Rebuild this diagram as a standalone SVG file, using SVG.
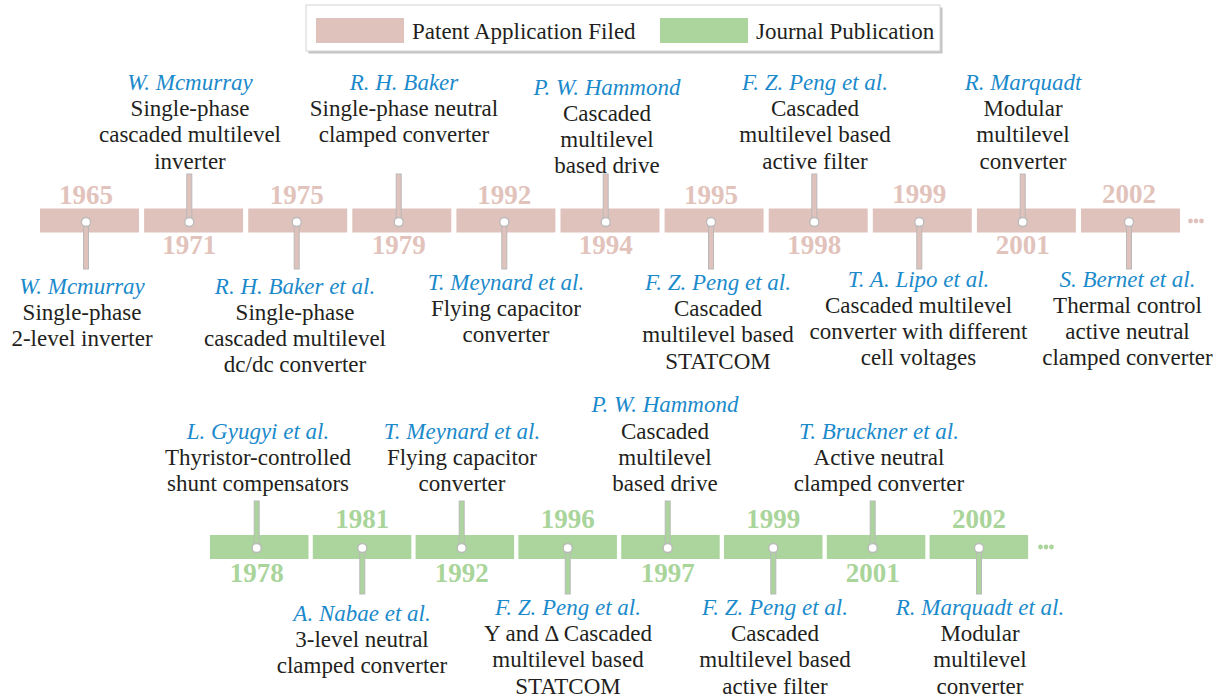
<svg xmlns="http://www.w3.org/2000/svg" width="1227" height="697" viewBox="0 0 1227 697" font-family="'Liberation Serif', 'Times New Roman', Tinos, 'Nimbus Roman', 'Nimbus Roman No9 L', FreeSerif, 'Noto Serif', 'DejaVu Serif', Times, serif">
<style>
.bp{fill:#e0c2bc}
.bg{fill:#abd59c}
.sp{fill:#e0c2bc;stroke:#b9b9b9;stroke-width:1}
.sg{fill:#abd59c;stroke:#b9b9b9;stroke-width:1}
.dot{fill:#fff;stroke:#b9b9b9;stroke-width:1.3}
text{font-family:'Liberation Serif','Times New Roman',Tinos,'Nimbus Roman','Nimbus Roman No9 L',FreeSerif,'Noto Serif','DejaVu Serif',Times,serif}
.yr{font-weight:bold;font-size:27px;text-anchor:middle}
.yp{fill:#e2c3bc}
.yg{fill:#a9d49a}
.lb{font-size:23px;text-anchor:middle;fill:#231f20}
.au{font-style:italic;fill:#1b8acb}
.lg{font-size:23px;fill:#231f20}
</style>
<g id="legend">
<rect x="308.5" y="7.5" width="634" height="46" fill="#c4c4c4"/>
<rect x="306" y="5" width="634" height="46" fill="#fff" stroke="#d4d4d4" stroke-width="1"/>
<rect x="316" y="18" width="88" height="25" class="bp"/>
<text x="412" y="39" class="lg">Patent Application Filed</text>
<rect x="660" y="18" width="88" height="25" class="bg"/>
<text x="756" y="39" class="lg">Journal Publication</text>
</g>
<g id="timeline-top">
<rect class="bp" x="40" y="208.5" width="99" height="24"/>
<rect class="bp" x="144.1" y="208.5" width="99" height="24"/>
<rect class="bp" x="248.2" y="208.5" width="99" height="24"/>
<rect class="bp" x="352.3" y="208.5" width="99" height="24"/>
<rect class="bp" x="456.4" y="208.5" width="99" height="24"/>
<rect class="bp" x="560.5" y="208.5" width="99" height="24"/>
<rect class="bp" x="664.6" y="208.5" width="99" height="24"/>
<rect class="bp" x="768.7" y="208.5" width="99" height="24"/>
<rect class="bp" x="872.8" y="208.5" width="99" height="24"/>
<rect class="bp" x="976.9" y="208.5" width="99" height="24"/>
<rect class="bp" x="1081" y="208.5" width="99" height="24"/>
<circle class="bp" cx="1190.5" cy="221" r="2.4"/>
<circle class="bp" cx="1196" cy="221" r="2.4"/>
<circle class="bp" cx="1201.5" cy="221" r="2.4"/>
</g>
<g id="timeline-bottom">
<rect class="bg" x="210" y="535" width="98.5" height="24"/>
<rect class="bg" x="312.8" y="535" width="98.5" height="24"/>
<rect class="bg" x="415.6" y="535" width="98.5" height="24"/>
<rect class="bg" x="518.4" y="535" width="98.5" height="24"/>
<rect class="bg" x="621.2" y="535" width="98.5" height="24"/>
<rect class="bg" x="724" y="535" width="98.5" height="24"/>
<rect class="bg" x="826.8" y="535" width="98.5" height="24"/>
<rect class="bg" x="929.6" y="535" width="98.5" height="24"/>
<circle class="bg" cx="1040.5" cy="547" r="2.4"/>
<circle class="bg" cx="1046" cy="547" r="2.4"/>
<circle class="bg" cx="1051.5" cy="547" r="2.4"/>
</g>
<g id="connectors">
<rect class="sp" x="83.5" y="222" width="5" height="47"/>
<rect class="sp" x="186.8" y="174" width="5" height="48"/>
<rect class="sp" x="294.2" y="222" width="5" height="47"/>
<rect class="sp" x="396.2" y="174" width="5" height="48"/>
<rect class="sp" x="501.8" y="222" width="5" height="47"/>
<rect class="sp" x="603.2" y="174" width="5" height="48"/>
<rect class="sp" x="708.5" y="222" width="5" height="47"/>
<rect class="sp" x="811.8" y="174" width="5" height="48"/>
<rect class="sp" x="916.8" y="222" width="5" height="47"/>
<rect class="sp" x="1020.2" y="174" width="5" height="48"/>
<rect class="sp" x="1126.5" y="222" width="5" height="47"/>
<rect class="sg" x="254.2" y="501" width="5" height="47"/>
<rect class="sg" x="359.8" y="548" width="5" height="46"/>
<rect class="sg" x="459.2" y="501" width="5" height="47"/>
<rect class="sg" x="565.2" y="548" width="5" height="46"/>
<rect class="sg" x="665.2" y="501" width="5" height="47"/>
<rect class="sg" x="770.8" y="548" width="5" height="46"/>
<rect class="sg" x="870.2" y="501" width="5" height="47"/>
<rect class="sg" x="976.5" y="548" width="5" height="46"/>
</g>
<g id="n1965">
<circle class="dot" cx="86" cy="222" r="4.5"/>
<text class="yr yp" x="86" y="204">1965</text>
<text class="lb"><tspan class="au" x="82" y="293.5">W. Mcmurray</tspan><tspan x="82" y="319.7">Single-phase</tspan><tspan x="82" y="345.9">2-level inverter</tspan></text>
</g>
<g id="n1971">
<circle class="dot" cx="189.3" cy="222" r="4.5"/>
<text class="yr yp" x="189.3" y="254">1971</text>
<text class="lb"><tspan class="au" x="190" y="90">W. Mcmurray</tspan><tspan x="190" y="116.2">Single-phase</tspan><tspan x="190" y="142.4">cascaded multilevel</tspan><tspan x="190" y="168.6">inverter</tspan></text>
</g>
<g id="n1975">
<circle class="dot" cx="296.7" cy="222" r="4.5"/>
<text class="yr yp" x="296.7" y="203.5">1975</text>
<text class="lb"><tspan class="au" x="295" y="293.5">R. H. Baker et al.</tspan><tspan x="295" y="319.7">Single-phase</tspan><tspan x="295" y="345.9">cascaded multilevel</tspan><tspan x="295" y="372.1">dc/dc converter</tspan></text>
</g>
<g id="n1979">
<circle class="dot" cx="398.7" cy="222" r="4.5"/>
<text class="yr yp" x="398.7" y="254">1979</text>
<text class="lb"><tspan class="au" x="404" y="90">R. H. Baker</tspan><tspan x="404" y="116.2">Single-phase neutral</tspan><tspan x="404" y="142.4">clamped converter</tspan></text>
</g>
<g id="n1992a">
<circle class="dot" cx="504.3" cy="222" r="4.5"/>
<text class="yr yp" x="504.3" y="203.5">1992</text>
<text class="lb"><tspan class="au" x="506" y="290">T. Meynard et al.</tspan><tspan x="506" y="316.2">Flying capacitor</tspan><tspan x="506" y="342.4">converter</tspan></text>
</g>
<g id="n1994">
<circle class="dot" cx="605.7" cy="222" r="4.5"/>
<text class="yr yp" x="605.7" y="254">1994</text>
<text class="lb"><tspan class="au" x="607" y="94.7">P. W. Hammond</tspan><tspan x="607" y="120.9">Cascaded</tspan><tspan x="607" y="147.1">multilevel</tspan><tspan x="607" y="173.3">based drive</tspan></text>
</g>
<g id="n1995">
<circle class="dot" cx="711" cy="222" r="4.5"/>
<text class="yr yp" x="711" y="203.5">1995</text>
<text class="lb"><tspan class="au" x="718" y="290">F. Z. Peng et al.</tspan><tspan x="718" y="316.2">Cascaded</tspan><tspan x="718" y="342.4">multilevel based</tspan><tspan x="718" y="368.6">STATCOM</tspan></text>
</g>
<g id="n1998">
<circle class="dot" cx="814.3" cy="222" r="4.5"/>
<text class="yr yp" x="814.3" y="254">1998</text>
<text class="lb"><tspan class="au" x="815" y="90">F. Z. Peng et al.</tspan><tspan x="815" y="116.2">Cascaded</tspan><tspan x="815" y="142.4">multilevel based</tspan><tspan x="815" y="168.6">active filter</tspan></text>
</g>
<g id="n1999a">
<circle class="dot" cx="919.3" cy="222" r="4.5"/>
<text class="yr yp" x="919.3" y="203">1999</text>
<text class="lb"><tspan class="au" x="918.5" y="286.5">T. A. Lipo et al.</tspan><tspan x="918.5" y="312.7">Cascaded multilevel</tspan><tspan x="918.5" y="338.9">converter with different</tspan><tspan x="918.5" y="365.1">cell voltages</tspan></text>
</g>
<g id="n2001a">
<circle class="dot" cx="1022.7" cy="222" r="4.5"/>
<text class="yr yp" x="1022.7" y="254">2001</text>
<text class="lb"><tspan class="au" x="1023" y="90">R. Marquadt</tspan><tspan x="1023" y="116.2">Modular</tspan><tspan x="1023" y="142.4">multilevel</tspan><tspan x="1023" y="168.6">converter</tspan></text>
</g>
<g id="n2002a">
<circle class="dot" cx="1129" cy="222" r="4.5"/>
<text class="yr yp" x="1129" y="203">2002</text>
<text class="lb"><tspan class="au" x="1127.5" y="286.5">S. Bernet et al.</tspan><tspan x="1127.5" y="312.7">Thermal control</tspan><tspan x="1127.5" y="338.9">active neutral</tspan><tspan x="1127.5" y="365.1">clamped converter</tspan></text>
</g>
<g id="n1978">
<circle class="dot" cx="256.7" cy="548" r="4.5"/>
<text class="yr yg" x="256.7" y="581.5">1978</text>
<text class="lb"><tspan class="au" x="258" y="438.6">L. Gyugyi et al.</tspan><tspan x="258" y="464.8">Thyristor-controlled</tspan><tspan x="258" y="491">shunt compensators</tspan></text>
</g>
<g id="n1981">
<circle class="dot" cx="362.3" cy="548" r="4.5"/>
<text class="yr yg" x="362.3" y="528">1981</text>
<text class="lb"><tspan class="au" x="362" y="621">A. Nabae et al.</tspan><tspan x="362" y="647.2">3-level neutral</tspan><tspan x="362" y="673.4">clamped converter</tspan></text>
</g>
<g id="n1992b">
<circle class="dot" cx="461.7" cy="548" r="4.5"/>
<text class="yr yg" x="461.7" y="581.5">1992</text>
<text class="lb"><tspan class="au" x="462" y="438.6">T. Meynard et al.</tspan><tspan x="462" y="464.8">Flying capacitor</tspan><tspan x="462" y="491">converter</tspan></text>
</g>
<g id="n1996">
<circle class="dot" cx="567.7" cy="548" r="4.5"/>
<text class="yr yg" x="567.7" y="528">1996</text>
<text class="lb"><tspan class="au" x="568" y="615">F. Z. Peng et al.</tspan><tspan x="568" y="641.2">Y and Δ Cascaded</tspan><tspan x="568" y="667.4">multilevel based</tspan><tspan x="568" y="693.6">STATCOM</tspan></text>
</g>
<g id="n1997">
<circle class="dot" cx="667.7" cy="548" r="4.5"/>
<text class="yr yg" x="667.7" y="581.5">1997</text>
<text class="lb"><tspan class="au" x="665" y="412.4">P. W. Hammond</tspan><tspan x="665" y="438.6">Cascaded</tspan><tspan x="665" y="464.8">multilevel</tspan><tspan x="665" y="491">based drive</tspan></text>
</g>
<g id="n1999b">
<circle class="dot" cx="773.3" cy="548" r="4.5"/>
<text class="yr yg" x="773.3" y="528">1999</text>
<text class="lb"><tspan class="au" x="775" y="615">F. Z. Peng et al.</tspan><tspan x="775" y="641.2">Cascaded</tspan><tspan x="775" y="667.4">multilevel based</tspan><tspan x="775" y="693.6">active filter</tspan></text>
</g>
<g id="n2001b">
<circle class="dot" cx="872.7" cy="548" r="4.5"/>
<text class="yr yg" x="872.7" y="581.5">2001</text>
<text class="lb"><tspan class="au" x="879" y="438.6">T. Bruckner et al.</tspan><tspan x="879" y="464.8">Active neutral</tspan><tspan x="879" y="491">clamped converter</tspan></text>
</g>
<g id="n2002b">
<circle class="dot" cx="979" cy="548" r="4.5"/>
<text class="yr yg" x="979" y="528">2002</text>
<text class="lb"><tspan class="au" x="980" y="615">R. Marquadt et al.</tspan><tspan x="980" y="641.2">Modular</tspan><tspan x="980" y="667.4">multilevel</tspan><tspan x="980" y="693.6">converter</tspan></text>
</g>
</svg>
